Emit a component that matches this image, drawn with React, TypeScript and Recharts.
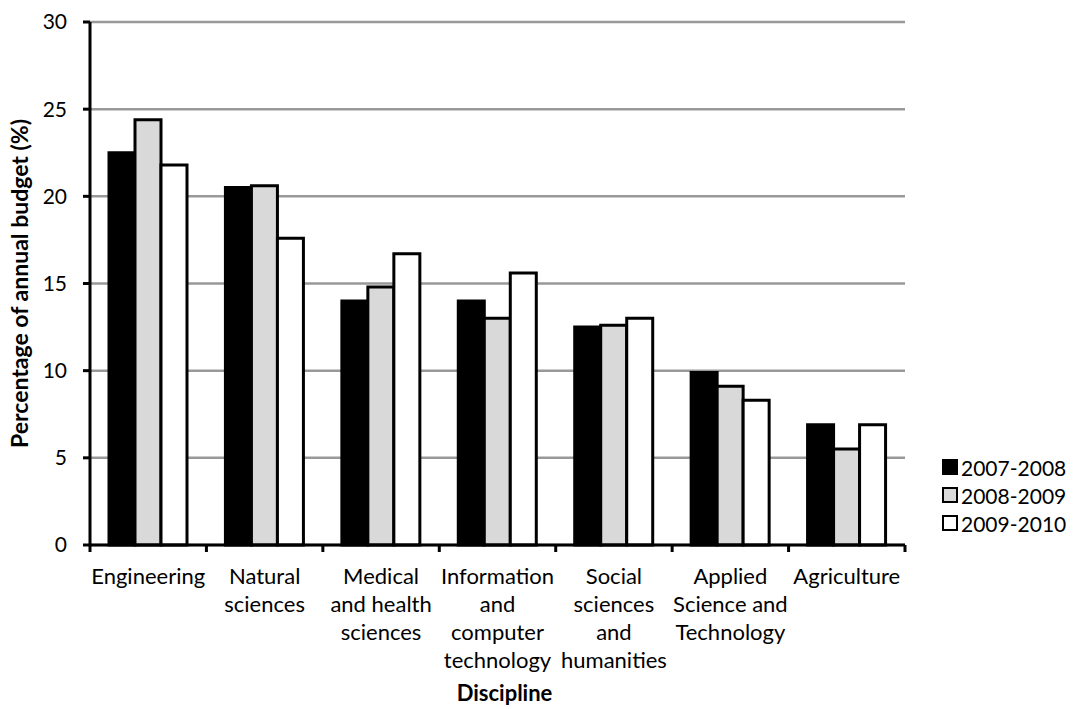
import React from 'react';
import { BarChart, Bar, XAxis, YAxis, CartesianGrid, Label } from 'recharts';

const categories = [
  'Engineering',
  'Natural\nsciences',
  'Medical\nand health\nsciences',
  'Information\nand\ncomputer\ntechnology',
  'Social\nsciences\nand\nhumanities',
  'Applied\nScience and\nTechnology',
  'Agriculture',
];

const y2007 = [22.5, 20.5, 14.0, 14.0, 12.5, 9.9, 6.9];
const y2008 = [24.4, 20.6, 14.8, 13.0, 12.6, 9.1, 5.5];
const y2009 = [21.8, 17.6, 16.7, 15.6, 13.0, 8.3, 6.9];

const yTicks = [0, 5, 10, 15, 20, 25, 30];

const seriesNames = ['2007-2008', '2008-2009', '2009-2010'];
const seriesFills = ['#000000', '#d9d9d9', '#ffffff'];

const chartData = categories.map((c, i) => ({
  discipline: c,
  a: y2007[i],
  b: y2008[i],
  c: y2009[i],
}));

const FONT = 'Lato, "DejaVu Sans", sans-serif';

const DisciplineTick = (props: any) => {
  const { x, y, payload, index, width } = props;
  const half = (width || 815) / categories.length / 2;
  const lines = String(payload.value).split('\n');
  return (
    <g>
      {index === 0 && (
        <line x1={x - half} x2={x - half} y1={y} y2={y + 7} stroke="#000" strokeWidth={3} />
      )}
      <line x1={x + half} x2={x + half} y1={y} y2={y + 7} stroke="#000" strokeWidth={3} />
      <text x={x} y={y + 39} textAnchor="middle" fontSize={22} fontFamily={FONT} fill="#000">
        {lines.map((l, i) => (
          <tspan key={i} x={x} dy={i === 0 ? 0 : 28}>
            {l}
          </tspan>
        ))}
      </text>
    </g>
  );
};

// legend drawn outside the chart so it doesn't eat plot space
const LegendBox = () => (
  <div style={{ position: 'absolute', left: 942, top: 453, fontFamily: FONT, fontSize: 21, color: '#000' }}>
    {seriesNames.map((name, i) => (
      <div key={name} style={{ display: 'flex', alignItems: 'center', height: 28 }}>
        <span
          style={{
            display: 'inline-block',
            width: 12,
            height: 12,
            background: seriesFills[i],
            border: '2px solid #000',
            marginRight: 3,
          }}
        />
        {name}
      </div>
    ))}
  </div>
);

export default function App() {
  return (
    <div style={{ position: 'absolute', left: 0, top: 0, width: 1073, height: 709, background: '#fff' }}>
      <BarChart
        width={1073}
        height={709}
        data={chartData}
        margin={{ top: 22, right: 168, left: 0, bottom: 0 }}
        barGap={0}
        barSize={26}
      >
        <CartesianGrid vertical={false} stroke="#999999" strokeWidth={2.5} />
        <XAxis
          dataKey="discipline"
          height={164}
          interval={0}
          tickLine={false}
          tickSize={0}
          tickMargin={0}
          axisLine={{ stroke: '#000', strokeWidth: 3 }}
          tick={<DisciplineTick />}
        >
          <Label
            value="Discipline"
            position="insideBottom"
            offset={8}
            dx={7}
            style={{ fontFamily: FONT, fontSize: 22, fontWeight: 700, fill: '#000' }}
          />
        </XAxis>
        <YAxis
          width={90}
          domain={[0, 30]}
          ticks={yTicks}
          interval={0}
          tickSize={7}
          tickMargin={16}
          axisLine={{ stroke: '#000', strokeWidth: 3 }}
          tickLine={{ stroke: '#000', strokeWidth: 3 }}
          tick={{ fontFamily: FONT, fontSize: 21, fill: '#000' }}
        >
          <Label
            value="Percentage of annual budget (%)"
            angle={-90}
            position="center"
            dx={-25}
            style={{ fontFamily: FONT, fontSize: 23, fontWeight: 700, fill: '#000', textAnchor: 'middle' }}
          />
        </YAxis>
        <Bar dataKey="a" name={seriesNames[0]} fill={seriesFills[0]} stroke="#000" strokeWidth={3} isAnimationActive={false} />
        <Bar dataKey="b" name={seriesNames[1]} fill={seriesFills[1]} stroke="#000" strokeWidth={3} isAnimationActive={false} />
        <Bar dataKey="c" name={seriesNames[2]} fill={seriesFills[2]} stroke="#000" strokeWidth={3} isAnimationActive={false} />
      </BarChart>
      <LegendBox />
    </div>
  );
}
